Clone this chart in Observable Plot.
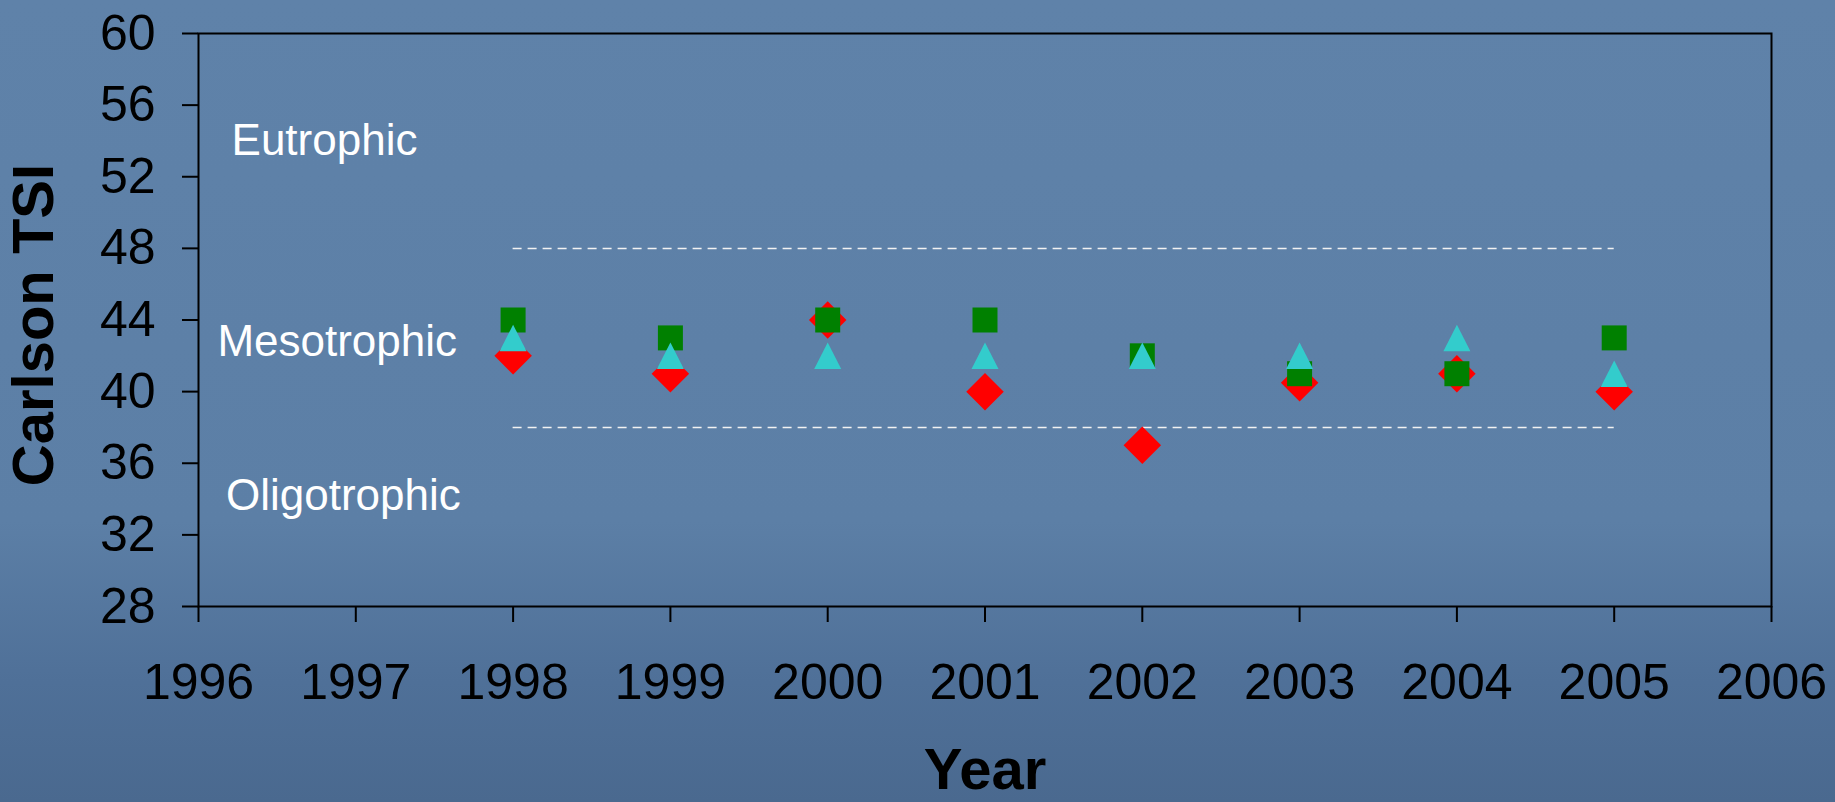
<!DOCTYPE html>
<html>
<head>
<meta charset="utf-8">
<script src="https://cdn.jsdelivr.net/npm/d3@7"></script>
<script src="https://cdn.jsdelivr.net/npm/@observablehq/plot@0.6"></script>
<style>
  html, body { margin: 0; padding: 0; }
  body {
    width: 1835px; height: 802px; overflow: hidden;
    background: linear-gradient(to bottom, #5f82a9 0%, #5c7fa6 65%, #4f7098 85%, #4a698f 100%);
    font-family: "Liberation Sans", Arial, sans-serif;
  }
  #chart svg { display: block; }
</style>
</head>
<body>
<div id="chart"></div>
<script>
// ---- data ----
const years = [1998, 1999, 2000, 2001, 2002, 2003, 2004, 2005];
const seriesSquare = [44, 43, 44, 44, 42, 41, 41, 43];      // green squares
const seriesTriangle = [43, 42, 42, 42, 42, 42, 43, 41];    // cyan triangles
const seriesDiamond = [42, 41, 44, 40, 37, 40.5, 41, 40];   // red diamonds
const xTicks = [1996, 1997, 1998, 1999, 2000, 2001, 2002, 2003, 2004, 2005, 2006];
const yTicks = [28, 32, 36, 40, 44, 48, 52, 56, 60];
const thresholds = [48, 38];
const zoneLabels = ["Eutrophic", "Mesotrophic", "Oligotrophic"];

const toRows = (vals) => years.map((year, i) => ({year, value: vals[i]}));

// custom marker shapes (Excel-like)
const squareSym = {draw(ctx, size) { const r = Math.sqrt(size / Math.PI); ctx.moveTo(-r, -r); ctx.lineTo(r, -r); ctx.lineTo(r, r); ctx.lineTo(-r, r); ctx.closePath(); }};
const triangleSym = {draw(ctx, size) { const r = Math.sqrt(size / Math.PI); const hw = 1.08 * r, hh = 1.06 * r; ctx.moveTo(0, -hh); ctx.lineTo(hw, hh); ctx.lineTo(-hw, hh); ctx.closePath(); }};
const diamondSym = {draw(ctx, size) { const r = Math.sqrt(size / Math.PI); const d = 1.5 * r; ctx.moveTo(0, -d); ctx.lineTo(d, 0); ctx.lineTo(0, d); ctx.lineTo(-d, 0); ctx.closePath(); }};

const zoneX = [1996.21, 1996.12, 1996.175];
const zoneY = [54, 42.75, 34.2];

const chart = Plot.plot({
  width: 1835,
  height: 802,
  marginLeft: 198,
  marginRight: 64,
  marginTop: 33,
  marginBottom: 196,
  style: {background: "transparent", color: "black", fontFamily: "'Liberation Sans', Arial, sans-serif", overflow: "visible"},
  x: {domain: [1996, 2006], axis: null},
  y: {domain: [28, 60], axis: null},
  marks: [
    Plot.ruleY(thresholds, {x1: d3.min(years), x2: d3.max(years), stroke: "#f2f2f2", strokeWidth: 1.5, strokeDasharray: "9,6"}),
    Plot.text(zoneLabels, {
      x: (d, i) => zoneX[i], y: (d, i) => zoneY[i], text: d => d,
      textAnchor: "start", fill: "white", fontSize: 44
    }),
    Plot.dot(toRows(seriesDiamond), {x: "year", y: "value", symbol: diamondSym, r: 12.5, fill: "#ff0000", stroke: "none"}),
    Plot.dot(toRows(seriesSquare), {x: "year", y: "value", symbol: squareSym, r: 12.5, fill: "#008000", stroke: "none"}),
    Plot.dot(toRows(seriesTriangle), {x: "year", y: "value", symbol: triangleSym, r: 12.5, fill: "#33cccc", stroke: "none"}),
    Plot.axisX({ticks: xTicks, tickFormat: d => String(d), tickSize: 16, tickPadding: 41, fontSize: 50, label: null, strokeWidth: 2}),
    Plot.axisY({ticks: yTicks, tickFormat: d => String(d), tickSize: 16, tickPadding: 27, fontSize: 50, label: null, strokeWidth: 2}),
    Plot.frame({stroke: "black", strokeWidth: 2}),
    Plot.text(["Year"], {frameAnchor: "bottom", textAnchor: "middle", lineAnchor: "bottom", dy: 182, text: d => d, fontSize: 58, fontWeight: "bold", fill: "black"}),
    Plot.text(["Carlson TSI"], {frameAnchor: "left", textAnchor: "middle", lineAnchor: "middle", dx: -164, dy: 5, rotate: -90, text: d => d, fontSize: 58, fontWeight: "bold", fill: "black"})
  ]
});
document.getElementById("chart").appendChild(chart);
</script>
</body>
</html>
